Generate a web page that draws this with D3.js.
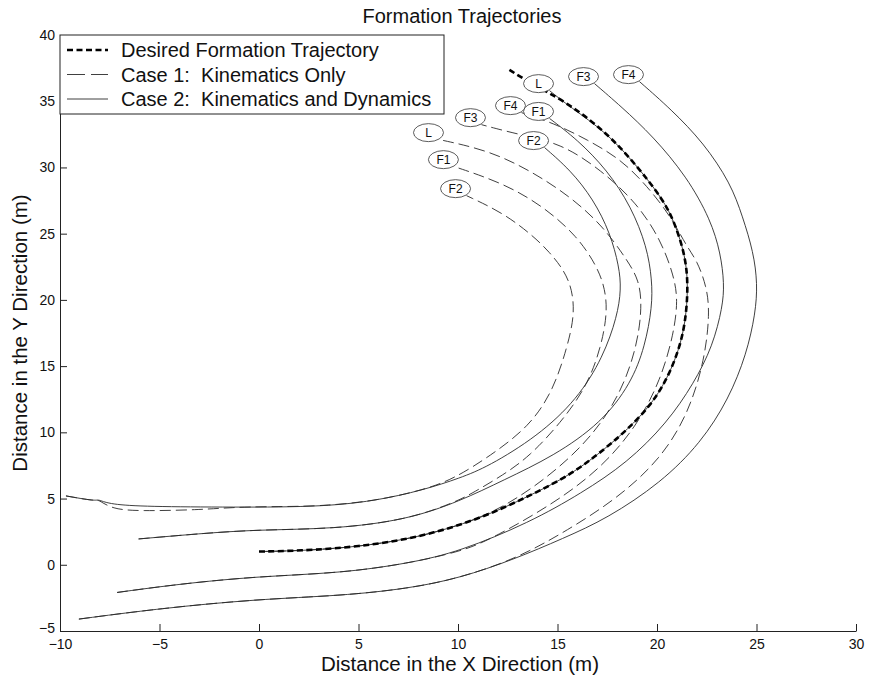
<!DOCTYPE html>
<html>
<head>
<meta charset="utf-8">
<script src="https://cdn.jsdelivr.net/npm/d3@7"></script>
<style>
  html, body { margin: 0; padding: 0; background: #fff; }
  svg { display: block; font-family: "Liberation Sans", Arial, sans-serif; }
  text { white-space: pre; }
</style>
</head>
<body>
<svg id="chart" width="874" height="687"></svg>
<script>
// Axis ticks
const xTicks = [-10, -5, 0, 5, 10, 15, 20, 25, 30];
const yTicks = [-5, 0, 5, 10, 15, 20, 25, 30, 35, 40];

// Desired formation trajectory (x, y in metres)
const desiredPath = [
  [0, 1], [2, 1.05], [5, 1.35], [8, 2.05], [11, 3.4], [13.6, 5.2], [15.8, 6.9],
  [17.5, 8.9], [18.5, 10.2], [19.67, 12.0], [20.5, 14.0], [21.1, 16.2],
  [21.43, 18.3], [21.57, 21.0], [21.43, 23.3], [20.9, 25.8], [20.3, 27.6],
  [19.0, 30.1], [17.5, 32.6], [15.5, 34.9], [13.6, 36.4], [12.55, 37.4]
];

// Case 2: kinematics and dynamics
const case2L = [
  [0, 1], [2, 1.05], [5, 1.35], [8, 2.05], [11, 3.4], [13.6, 5.2], [15.8, 6.9],
  [17.5, 8.9], [18.5, 10.2], [19.67, 12.0], [20.5, 14.0], [21.1, 16.2],
  [21.43, 18.3], [21.57, 21.0], [21.43, 23.3], [20.9, 25.8], [20.3, 27.6],
  [19.0, 30.1], [17.5, 32.6], [15.6, 34.6], [14.6, 35.8]
];
const case2F1 = [
  [-6.05, 1.95], [-3, 2.35], [-0.1, 2.65], [3.8, 2.7], [7.45, 3.4], [10.1, 4.8],
  [12.3, 6.4], [14.8, 8.2], [17.2, 10.7], [18.7, 13.7], [19.4, 16.5], [19.76, 19.5],
  [19.75, 21.5], [19.5, 24.0], [18.7, 27.05], [17.5, 29.8], [16.0, 32.1], [14.6, 33.7]
];
const case2F2 = [
  [-9.7, 5.2], [-8.2, 4.8], [-8.1, 4.96], [-7.6, 4.6], [-6, 4.4], [-2, 4.35],
  [2.9, 4.35], [5.8, 4.8], [8.3, 5.66], [10.1, 6.55], [11.5, 7.4], [14.0, 9.7],
  [16.0, 12.5], [17.3, 15.7], [18.0, 18.75], [18.2, 20.8], [18.1, 22.5],
  [17.65, 25.05], [16.8, 27.6], [15.65, 29.8], [14.35, 31.5]
];
const case2F3 = [
  [-7.13, -2.09], [-4, -1.45], [-0.1, -0.88], [4.1, -0.63], [7.5, 0.1], [10.1, 1.0],
  [13.6, 3.2], [16.2, 5.4], [18.5, 7.7], [20.5, 10.7], [21.85, 13.7], [22.8, 16.5],
  [23.3, 19.5], [23.38, 21.2], [23.2, 23.5], [22.7, 26.05], [21.5, 29.3],
  [19.8, 32.35], [18.2, 34.6], [16.86, 36.33]
];
const case2F4 = [
  [-9.05, -4.1], [-5, -3.3], [-0.1, -2.6], [4.1, -2.34], [7.5, -1.8], [10.1, -1.0],
  [12.8, 0.4], [15.3, 2.0], [17.5, 3.5], [20.2, 6.2], [22.2, 9.2], [23.6, 12.5],
  [24.5, 15.9], [24.95, 19.0], [25.05, 21.2], [24.85, 23.6], [24.3, 26.3],
  [23.7, 28.8], [22.35, 31.85], [20.7, 34.4], [19.12, 36.48]
];

// Case 1: kinematics only
const case1L = [
  [0, 1], [2, 1.05], [5, 1.35], [8, 2.05], [11, 3.4], [13.0, 5.0], [15.0, 7.2],
  [16.8, 9.8], [18.2, 13.0], [19.0, 16.5], [19.25, 19.5], [19.1, 21.5], [18.5, 23.0],
  [17.3, 25.55], [15.65, 27.8], [13.6, 29.8], [11.5, 31.3], [9.07, 32.1]
];
const case1F1 = [
  [-6.05, 1.95], [-3, 2.35], [-0.1, 2.65], [3.8, 2.7], [7.45, 3.4], [9.8, 4.7],
  [10.6, 5.3], [12.3, 6.8], [13.6, 8.2], [15.15, 10.7], [16.5, 13.5], [17.2, 16.5],
  [17.5, 19.0], [17.4, 20.8], [17.0, 22.5], [16.0, 24.8], [14.3, 27.05],
  [12.3, 28.8], [9.82, 30.06]
];
const case1F2 = [
  [-9.7, 5.2], [-8.2, 4.8], [-8.1, 4.96], [-7.4, 4.2], [-6, 4.05], [-3, 4.15],
  [-1.4, 4.33], [0.5, 4.4], [2.9, 4.4], [5.8, 4.8], [8.3, 5.66], [9.8, 6.5],
  [11.6, 8.2], [13.6, 10.45], [14.8, 13.2], [15.5, 16.5], [15.85, 18.8],
  [15.75, 20.8], [15.3, 22.3], [14.6, 23.6], [13.8, 24.8], [12.3, 26.55], [10.43, 27.87]
];
const case1F3 = [
  [-7.13, -2.09], [-4, -1.45], [-0.1, -0.88], [4.1, -0.63], [7.5, 0.1], [10.1, 1.0],
  [11.5, 1.8], [14.8, 4.6], [17.2, 7.3], [19.0, 10.5], [20.2, 14.0], [20.85, 17.5],
  [21.05, 20.0], [20.85, 21.8], [20.2, 24.5], [19.0, 27.3], [17.2, 29.8],
  [15.15, 31.85], [13.0, 32.5], [11.18, 33.23]
];
const case1F4 = [
  [-9.05, -4.1], [-5, -3.3], [-0.1, -2.6], [4.1, -2.34], [7.5, -1.8], [10.1, -1.0],
  [13.0, 0.5], [15.5, 2.6], [18.0, 5.0], [20.2, 8.0], [21.6, 11.5], [22.4, 15.5],
  [22.65, 19.0], [22.5, 21.0], [22.0, 23.0], [21.5, 24.0], [20.7, 26.3], [19.5, 28.6],
  [18.2, 30.6], [16.5, 32.1], [14.8, 33.35], [13.19, 34.14]
];

const agentNames = ["L", "F1", "F2", "F3", "F4"];
const case1Paths = [case1L, case1F1, case1F2, case1F3, case1F4];
const case2Paths = [case2L, case2F1, case2F2, case2F3, case2F4];

const legendLabels = [
  "Desired Formation Trajectory",
  "Case 1:  Kinematics Only",
  "Case 2:  Kinematics and Dynamics"
];

const svg = d3.select("#chart");
const x = d3.scaleLinear().domain([-10, 30]).range([60, 856]);
const y = d3.scaleLinear().domain([-5, 40]).range([631, 35]);

// Smooth B-spline through the sampled trajectory points
const line = d3.line()
  .x(d => x(d[0]))
  .y(d => y(d[1]))
  .curve(d3.curveBasis);

const plot = svg.append("g");

// Case 2 trajectories (solid)
plot.selectAll("path.case2")
  .data(case2Paths)
  .join("path")
  .attr("class", "case2")
  .attr("d", line)
  .attr("fill", "none")
  .attr("stroke", "#2a2a2a")
  .attr("stroke-width", 0.9);

// Case 1 trajectories (dashed)
plot.selectAll("path.case1")
  .data(case1Paths)
  .join("path")
  .attr("class", "case1")
  .attr("d", line)
  .attr("fill", "none")
  .attr("stroke", "#2a2a2a")
  .attr("stroke-width", 0.9)
  .attr("stroke-dasharray", "11,5");

// Desired trajectory (thick dashed)
plot.append("path")
  .datum(desiredPath)
  .attr("d", line)
  .attr("fill", "none")
  .attr("stroke", "#000")
  .attr("stroke-width", 2.6)
  .attr("stroke-dasharray", "6,3.5");

// Agent name tags at the end of each trajectory
function tags(paths) {
  const g = plot.append("g");
  paths.forEach((p, i) => {
    const end = p[p.length - 1];
    const cx = x(end[0]) - 11, cy = y(end[1]) - 7;
    g.append("ellipse")
      .attr("cx", cx).attr("cy", cy)
      .attr("rx", 15).attr("ry", 9)
      .attr("fill", "#fff")
      .attr("stroke", "#333")
      .attr("stroke-width", 0.8);
    g.append("text")
      .attr("x", cx).attr("y", cy + 4.3)
      .attr("text-anchor", "middle")
      .attr("font-size", 12)
      .attr("fill", "#111")
      .text(agentNames[i]);
  });
}
tags(case1Paths);
tags(case2Paths);

// Axes (ticks drawn inward)
const xAxis = d3.axisBottom(x).tickValues(xTicks).tickSizeInner(-7).tickSizeOuter(0).tickPadding(8);
const yAxis = d3.axisLeft(y).tickValues(yTicks).tickSizeInner(-7).tickSizeOuter(0).tickPadding(5);

const gx = svg.append("g").attr("transform", "translate(0,631)").call(xAxis);
const gy = svg.append("g").attr("transform", "translate(60,0)").call(yAxis);
[gx, gy].forEach(g => {
  g.select(".domain").attr("stroke", "#222").attr("stroke-width", 1);
  g.selectAll(".tick line").attr("stroke", "#222");
  g.selectAll(".tick text")
    .attr("font-size", 14)
    .attr("fill", "#111")
    .attr("font-family", "'Liberation Sans', Arial, sans-serif");
});
// keep the lowest y label clear of the first x label
gy.selectAll(".tick text").filter(d => d === -5).attr("dy", "0.1em");

// Legend
const legend = svg.append("g");
legend.append("rect")
  .attr("x", 60).attr("y", 35)
  .attr("width", 384).attr("height", 79)
  .attr("fill", "#fff")
  .attr("stroke", "#222")
  .attr("stroke-width", 1);
const legendRows = [
  { dash: "6,3.5", width: 2.6, color: "#000" },
  { dash: "18,6", width: 0.9, color: "#2a2a2a" },
  { dash: null, width: 0.9, color: "#2a2a2a" }
];
legendRows.forEach((r, i) => {
  const ly = 50 + i * 24.5;
  legend.append("line")
    .attr("x1", 67).attr("x2", 108)
    .attr("y1", ly).attr("y2", ly)
    .attr("stroke", r.color)
    .attr("stroke-width", r.width)
    .attr("stroke-dasharray", r.dash);
  legend.append("text")
    .attr("x", 121).attr("y", ly + 7)
    .attr("font-size", 20)
    .attr("fill", "#111")
    .text(legendLabels[i]);
});

// Title and axis labels
svg.append("text")
  .attr("x", 462).attr("y", 23)
  .attr("text-anchor", "middle")
  .attr("font-size", 20)
  .attr("fill", "#111")
  .text("Formation Trajectories");
svg.append("text")
  .attr("x", 460).attr("y", 671)
  .attr("text-anchor", "middle")
  .attr("font-size", 20.5)
  .attr("fill", "#111")
  .text("Distance in the X Direction (m)");
svg.append("text")
  .attr("transform", "translate(27,333) rotate(-90)")
  .attr("text-anchor", "middle")
  .attr("font-size", 20.5)
  .attr("fill", "#111")
  .text("Distance in the Y Direction (m)");
</script>
</body>
</html>
